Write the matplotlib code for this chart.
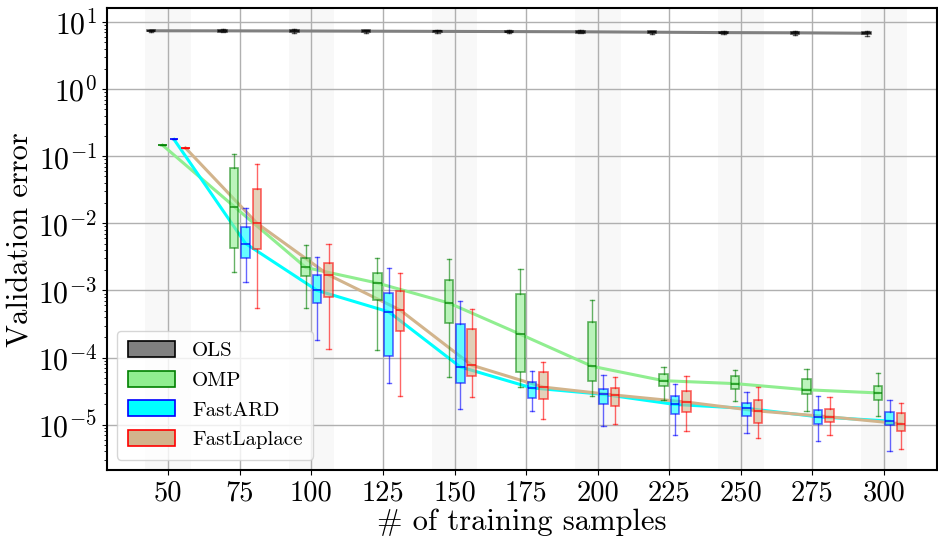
import numpy as np
import matplotlib
matplotlib.use('Agg')
import matplotlib.pyplot as plt
from matplotlib.patches import Patch

plt.rcParams['font.family'] = 'serif'
plt.rcParams['font.serif'] = ['cmr10']
plt.rcParams['mathtext.fontset'] = 'cm'
plt.rcParams['axes.formatter.use_mathtext'] = True

n_samples = [50, 75, 100, 125, 150, 175, 200, 225, 250, 275, 300]
methods = ['OLS', 'OMP', 'FastARD', 'FastLaplace']

ols_med = [7.4, 7.38, 7.35, 7.3, 7.25, 7.2, 7.15, 7.05, 6.95, 6.9, 6.8]
ols_q1 = [7.3, 7.2, 7.15, 7.1, 7.05, 7.0, 6.95, 6.85, 6.75, 6.7, 6.55]
ols_q3 = [7.5, 7.55, 7.55, 7.5, 7.45, 7.4, 7.35, 7.25, 7.15, 7.1, 7.05]
ols_lo = [7.2, 7.0, 6.95, 6.9, 6.85, 6.8, 6.75, 6.65, 6.55, 6.5, 6.2]
ols_hi = [7.6, 7.75, 7.75, 7.7, 7.65, 7.6, 7.55, 7.45, 7.35, 7.3, 7.4]

omp_med = [0.146, 0.0178, 0.0022, 0.00129, 0.00065, 0.000222, 0.0000742, 0.0000452, 0.0000409, 0.0000331, 0.0000297]
omp_q1 = [0.146, 0.00424, 0.00166, 0.00071, 0.00033, 0.0000612, 0.0000440, 0.0000380, 0.0000344, 0.0000282, 0.0000237]
omp_q3 = [0.146, 0.067, 0.0030, 0.00182, 0.00143, 0.00090, 0.00034, 0.0000575, 0.0000531, 0.0000478, 0.0000378]
omp_lo = [0.146, 0.00186, 0.00055, 0.000130, 0.0000513, 0.0000363, 0.0000265, 0.0000236, 0.0000225, 0.0000158, 0.0000136]
omp_hi = [0.146, 0.108, 0.0047, 0.0030, 0.0029, 0.00210, 0.00073, 0.0000734, 0.0000660, 0.0000676, 0.0000583]

ard_med = [0.178, 0.0050, 0.0010, 0.00048, 0.0000725, 0.0000353, 0.0000283, 0.0000200, 0.0000175, 0.0000131, 0.0000113]
ard_q1 = [0.178, 0.0030, 0.00064, 0.000105, 0.0000414, 0.0000248, 0.0000200, 0.0000145, 0.0000134, 0.0000104, 0.0000099]
ard_q3 = [0.178, 0.00883, 0.00167, 0.00093, 0.00032, 0.0000435, 0.0000340, 0.0000265, 0.0000212, 0.0000168, 0.0000153]
ard_lo = [0.178, 0.00133, 0.000183, 0.0000414, 0.0000170, 0.0000161, 0.0000097, 0.0000070, 0.0000074, 0.0000058, 0.0000041]
ard_hi = [0.178, 0.0170, 0.0032, 0.00213, 0.00069, 0.0000635, 0.0000550, 0.0000403, 0.0000303, 0.0000269, 0.0000237]

lap_med = [0.133, 0.0100, 0.0017, 0.00051, 0.0000770, 0.0000363, 0.0000276, 0.0000217, 0.0000160, 0.0000131, 0.0000103]
lap_q1 = [0.133, 0.0042, 0.00079, 0.000245, 0.0000522, 0.0000245, 0.0000188, 0.0000157, 0.0000106, 0.0000108, 0.0000080]
lap_q3 = [0.133, 0.033, 0.0026, 0.00098, 0.00027, 0.000060, 0.0000356, 0.0000314, 0.0000233, 0.0000174, 0.0000150]
lap_lo = [0.133, 0.00054, 0.000135, 0.0000269, 0.0000261, 0.0000123, 0.0000103, 0.0000081, 0.0000064, 0.0000071, 0.0000043]
lap_hi = [0.133, 0.076, 0.0050, 0.00179, 0.00053, 0.000086, 0.0000520, 0.0000525, 0.0000363, 0.0000260, 0.0000212]

series = [
    (ols_med, ols_q1, ols_q3, ols_lo, ols_hi),
    (omp_med, omp_q1, omp_q3, omp_lo, omp_hi),
    (ard_med, ard_q1, ard_q3, ard_lo, ard_hi),
    (lap_med, lap_q1, lap_q3, lap_lo, lap_hi),
]
offsets = [-6, -2, 2, 6]
face_colors = ['gray', 'lightgreen', 'cyan', 'tan']
edge_colors = ['black', 'green', 'blue', 'red']
line_colors = ['gray', 'lightgreen', 'cyan', 'tan']

fig = plt.figure(figsize=(9.38, 5.39), dpi=100)
ax = fig.add_axes([0.1138, 0.128, 0.885, 0.8566])
ax.set_yscale('log')

for i, x in enumerate(n_samples):
    if i % 2 == 0:
        ax.axvspan(x - 8, x + 8, color='#f8f8f8', zorder=0, lw=0)

for k in range(4):
    med, q1, q3, lo, hi = series[k]
    pos = [x + offsets[k] for x in n_samples]
    ax.plot(pos, med, color=line_colors[k], lw=2.2, zorder=2)
    stats = [dict(med=med[j], q1=q1[j], q3=q3[j], whislo=lo[j], whishi=hi[j], fliers=[])
             for j in range(len(n_samples))]
    ec = edge_colors[k]
    ax.bxp(stats, positions=pos, widths=3.0, patch_artist=True, showfliers=False,
           manage_ticks=False,
           boxprops=dict(facecolor=face_colors[k], edgecolor=ec, alpha=0.6, lw=1.2),
           medianprops=dict(color=ec, lw=1.2, alpha=0.8),
           whiskerprops=dict(color=ec, lw=1.0, alpha=0.6),
           capprops=dict(color=ec, lw=1.0, alpha=0.6),
           zorder=3)

ax.set_xticks(n_samples)
ax.set_xticklabels([str(x) for x in n_samples])
ax.set_xlim(28.5, 318.5)
ax.set_ylim(2.11e-6, 16.0)
ax.set_yticks([1e-5, 1e-4, 1e-3, 1e-2, 1e-1, 1e0, 1e1])
ax.grid(True, which='major', color='#b0b0b0', lw=1.0, zorder=1)
ax.set_axisbelow(True)
ax.tick_params(axis='x', which='major', labelsize=20.5)
ax.tick_params(axis='y', which='major', labelsize=21.5)
for s in ax.spines.values():
    s.set_linewidth(1.5)

ax.set_xlabel('# of training samples', fontsize=22, labelpad=2)
ax.set_ylabel('Validation error', fontsize=22, labelpad=2)

handles = [Patch(facecolor=face_colors[k], edgecolor=edge_colors[k], lw=1.2) for k in range(4)]
ax.legend(handles, methods, loc='lower left', fontsize=15, handlelength=2.3,
          handleheight=0.8, labelspacing=0.5, borderpad=0.5, framealpha=0.8)

fig.savefig('out.png', dpi=100)
